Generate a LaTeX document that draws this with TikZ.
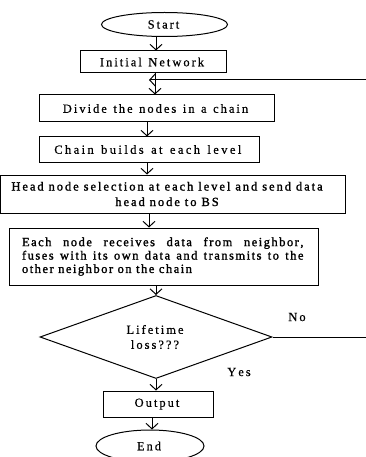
\documentclass[tikz,border=0pt]{standalone}
\usepackage{fontspec}
\setmainfont{Liberation Serif}
\newfontfamily\fR{Liberation Serif}[FakeBold=0.5]
\newfontfamily\fHB{Liberation Serif}[FakeBold=1.5]
\ExplSyntaxOn
\NewDocumentCommand\LS{mmm}{
  \seq_set_split:Nnn \l_tmpa_seq {~} {#3}
  \seq_map_indexed_inline:Nn \l_tmpa_seq
   { \int_compare:nNnT {##1} > {1} { \hskip #2 \relax }
     \tl_map_inline:nn {##2} { ####1 \kern #1 \relax } }
}
\ExplSyntaxOff
\newcommand\sA[1]{\LS{2pt}{4.5pt}{#1}}
\newcommand\sB[1]{\LS{2.4pt}{5pt}{#1}}
\newcommand\sH[1]{\LS{1.95pt}{3pt}{#1}}
\newcommand\sE[1]{\LS{1.5pt}{3pt plus 20pt minus 1pt}{#1}}
\usetikzlibrary{arrows.meta,shapes.geometric}
\begin{document}
\begin{tikzpicture}[x=1pt,y=-1pt,line width=1pt,
  txt/.style={font=\fR\fontsize{12.5}{15}\selectfont},
  box/.style={draw, rectangle, inner sep=0pt, txt},
  oval/.style={draw, ellipse, inner sep=0pt, txt},
  lbl/.style={inner sep=0pt, txt},
  arr/.style={-{Straight Barb[length=5.5pt,width=12pt]}}]
\useasboundingbox (0,0) rectangle (366,457);

\node[oval, minimum width=126, minimum height=24] (start) at (164.5,24.5) {\sA{Start}};
\node[box, minimum width=146, minimum height=22] (initial) at (153,62) {\sA{Initial Network}};
\node[box, minimum width=235, minimum height=27] (divide) at (156.5,108.5) {\sA{Divide the nodes in a chain}};
\node[box, minimum width=220, minimum height=25] (chain) at (149,149.5) {\sB{Chain builds at each level}};
\node[box, minimum width=345, minimum height=38, align=center,
  font=\fHB\fontsize{12.5}{15.5}\selectfont] (head) at (172.5,194)
  {\sH{Head node selection at each level and send data}\hspace*{9pt}\\
   \sH{head node to BS}\hspace*{9pt}};
\node[box, minimum width=309, minimum height=57, align=left,
  font=\fHB\fontsize{12.5}{13.4}\selectfont] (each) at (163.5,256.5)
  {\makebox[283pt][s]{\sE{Each node receives data from neighbor,}}\\
   \makebox[283pt][s]{\sE{fuses with its own data and transmits to the}}\\
   \sE{other neighbor on the chain}};
\node[draw, diamond, inner sep=0pt, minimum width=232, minimum height=79,
  txt, align=center] (dia) at (156,337)
  {\sA{Lifetime}\\\sA{loss???}};
\node[lbl] (no) at (298,317) {\sA{No}};
\node[lbl] (yes) at (240,372) {\sA{Yes}};
\node[box, minimum width=110, minimum height=26] (output) at (158,404) {\sA{Output}};
\node[oval, minimum width=108, minimum height=32] (end) at (150,446) {\sA{End}};

\coordinate (c1) at (156,0);
\coordinate (c2) at (155,0);
\coordinate (c3) at (147,0);
\coordinate (c5) at (149,0);
\coordinate (c6) at (156,0);
\coordinate (c8) at (152,0);
\coordinate (fbR) at (366,80);
\coordinate (fbL) at (149,80);
\coordinate (noR) at (366,337);

\draw[arr] (start.south -| c1) -- (initial.north -| c1);
\draw[arr] (initial.south -| c2) -- (divide.north -| c2);
\draw[arr] (fbR) -- (fbL);
\draw[arr] (divide.south -| c3) -- (chain.north -| c3);
\draw[arr] (chain.south -| c3) -- (head.north -| c3);
\draw[arr] (head.south -| c5) -- (each.north -| c5);
\draw[arr] (each.south -| c6) -- (dia.north);
\draw (dia.east) -- (noR);
\draw[arr] (dia.south) -- (output.north -| dia.south);
\draw[arr] (output.south -| c8) -- (end.north -| c8);
\end{tikzpicture}
\end{document}
